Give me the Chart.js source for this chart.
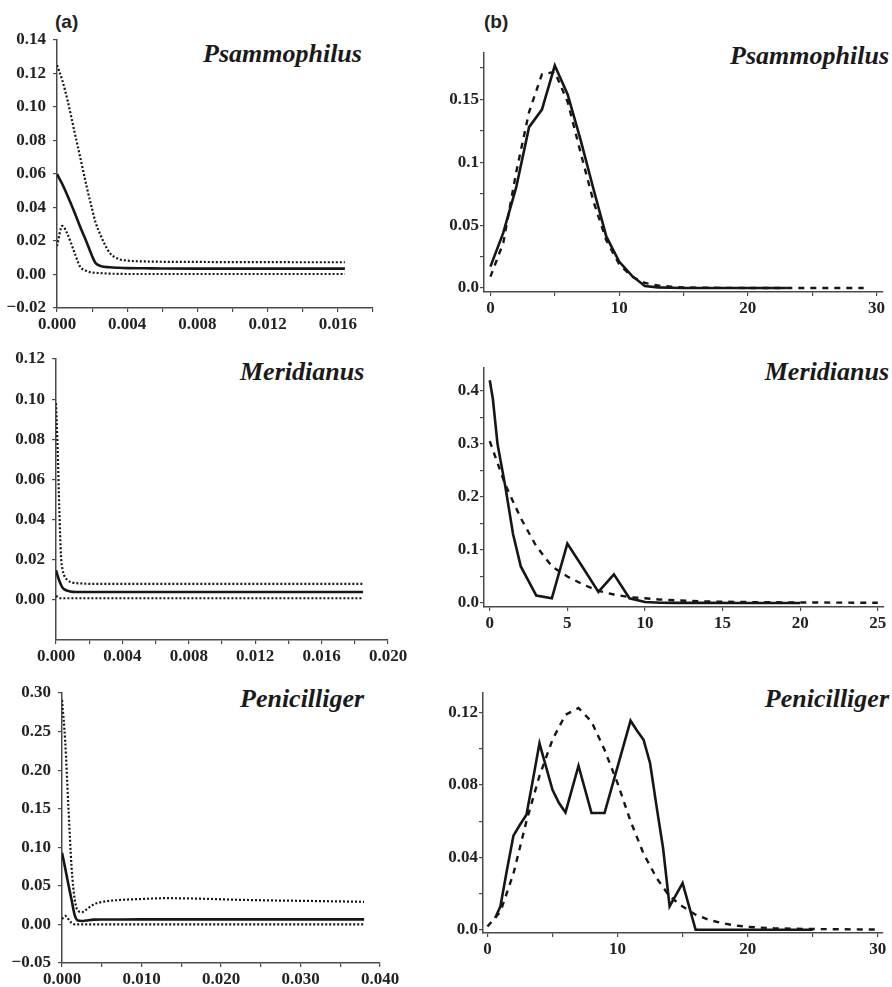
<!DOCTYPE html>
<html>
<head>
<meta charset="utf-8">
<script src="https://cdn.jsdelivr.net/npm/chart.js@4.4.0/dist/chart.umd.min.js"></script>
<style>
  body { margin: 0; background: #fff; width: 892px; height: 987px; position: relative; overflow: hidden; }
  canvas { position: absolute; }
  .tag { position: absolute; font: bold 19px "Liberation Sans", Arial, sans-serif; line-height: 19px; color: #222; }
  .sp { position: absolute; font: italic bold 26px "Liberation Serif", "Times New Roman", serif; line-height: 26px; color: #1a1a1a; white-space: nowrap; }
</style>
</head>
<body>
<div class="tag" style="left:55px;top:12px">(a)</div>
<div class="tag" style="left:484px;top:12px">(b)</div>
<div class="sp" style="left:203px;top:41px">Psammophilus</div>
<div class="sp" style="right:3px;top:43px">Psammophilus</div>
<div class="sp" style="left:240px;top:359px">Meridianus</div>
<div class="sp" style="right:3px;top:359px">Meridianus</div>
<div class="sp" style="left:240px;top:686px">Penicilliger</div>
<div class="sp" style="right:3px;top:686px">Penicilliger</div>

<script>
// ---- column (a): estimates with upper / lower bounds ----
const psaGrid = [0, 0.0003, 0.0006, 0.001, 0.0013, 0.0017, 0.002, 0.0022, 0.0025, 0.003, 0.0035, 0.004, 0.005, 0.006, 0.008, 0.010, 0.012, 0.014, 0.0164];
const psaMid = [0.060, 0.054, 0.047, 0.037, 0.029, 0.019, 0.011, 0.0068, 0.005, 0.0043, 0.004, 0.0038, 0.0037, 0.0036, 0.0035, 0.0035, 0.0035, 0.0035, 0.0035];
const psaUpper = [0.125, 0.116, 0.104, 0.085, 0.071, 0.052, 0.039, 0.031, 0.023, 0.013, 0.0093, 0.0083, 0.0078, 0.0076, 0.0075, 0.0074, 0.0074, 0.0073, 0.0073];
const psaLower = [0.017, 0.029, 0.024, 0.013, 0.005, 0.002, 0.0012, 0.001, 0.0008, 0.0005, 0.0004, 0.0003, 0.0003, 0.0003, 0.0003, 0.0003, 0.0003, 0.0003, 0.0003];

const merGrid = [0, 0.0001, 0.0002, 0.0003, 0.0004, 0.0005, 0.0007, 0.001, 0.0015, 0.002, 0.004, 0.008, 0.012, 0.016, 0.0185];
const merMid = [0.0148, 0.012, 0.0095, 0.0075, 0.006, 0.0052, 0.0045, 0.004, 0.0039, 0.0039, 0.0039, 0.0039, 0.0039, 0.0039, 0.0039];
const merUpper = [0.098, 0.075, 0.045, 0.022, 0.015, 0.012, 0.0098, 0.0086, 0.0082, 0.008, 0.008, 0.008, 0.008, 0.008, 0.008];
const merLower = [0.002, 0.0015, 0.001, 0.0008, 0.0008, 0.0008, 0.0008, 0.0008, 0.0008, 0.0008, 0.0008, 0.0008, 0.0008, 0.0008, 0.0008];

const penGrid = [0, 0.0004, 0.0008, 0.0012, 0.0016, 0.002, 0.0025, 0.003, 0.004, 0.005, 0.007, 0.010, 0.013, 0.017, 0.022, 0.027, 0.030, 0.034, 0.038];
const penMid = [0.093, 0.073, 0.052, 0.032, 0.012, 0.005, 0.0045, 0.005, 0.0062, 0.0063, 0.0064, 0.0065, 0.0065, 0.0065, 0.0065, 0.0065, 0.0065, 0.0065, 0.0065];
const penUpper = [0.291, 0.238, 0.153, 0.075, 0.032, 0.018, 0.016, 0.019, 0.026, 0.029, 0.0315, 0.033, 0.034, 0.0335, 0.032, 0.031, 0.0306, 0.030, 0.0293];
const penLower = [0.007, 0.011, 0.007, 0.002, 0, 0, 0, 0, 0, 0, 0, 0, 0, 0, 0, 0, 0, 0, 0];

// ---- column (b): observed (solid) vs fitted (dashed) ----
const psaObsX = [0, 1, 2, 3, 4, 5, 6, 7, 8, 9, 10, 11, 12, 13, 14, 15, 16, 17, 18, 19, 20, 21, 22, 23];
const psaObs = [0.017, 0.044, 0.080, 0.128, 0.142, 0.177, 0.154, 0.118, 0.079, 0.041, 0.021, 0.0096, 0.0015, 0.0005, 0.0002, 0, 0, 0, 0, 0, 0, 0, 0, 0];
const psaFitX = [0, 1, 2, 3, 4, 5, 6, 7, 8, 9, 10, 11, 12, 13, 14, 15, 16, 17, 18, 19, 20, 21, 22, 23, 24, 25, 26, 27, 28, 29];
const psaFit = [0.009, 0.036, 0.092, 0.140, 0.170, 0.172, 0.148, 0.108, 0.069, 0.038, 0.019, 0.009, 0.004, 0.002, 0.001, 0.0005, 0.0003, 0.0002, 0.0001, 0.0001, 0, 0, 0, 0, 0, 0, 0, 0, 0, 0];

const merObsX = [0, 0.2, 0.5, 1, 1.5, 2, 3, 4, 5, 6, 7, 8, 9, 10, 11, 12, 14, 16, 18, 20];
const merObs = [0.42, 0.385, 0.30, 0.22, 0.13, 0.069, 0.014, 0.009, 0.112, 0.067, 0.021, 0.054, 0.009, 0.002, 0.0005, 0.0003, 0.0002, 0.0001, 0, 0];
const merFitX = [0, 1, 2, 3, 4, 5, 6, 7, 8, 9, 10, 11, 12, 13, 14, 15, 16, 18, 20, 22, 25];
const merFit = [0.305, 0.223, 0.16, 0.107, 0.069, 0.050, 0.035, 0.023, 0.016, 0.011, 0.009, 0.0065, 0.005, 0.004, 0.003, 0.0025, 0.002, 0.0015, 0.001, 0.0008, 0.0005];

const penObsX = [0.6, 1, 1.5, 2, 2.5, 3, 3.5, 4, 5, 5.5, 6, 7, 8, 9, 10, 11, 11.5, 12, 12.5, 13, 13.5, 14, 15, 16, 18, 20, 22, 25];
const penObs = [0.0065, 0.013, 0.033, 0.052, 0.058, 0.0635, 0.083, 0.103, 0.0773, 0.070, 0.0648, 0.0906, 0.0645, 0.0645, 0.090, 0.1155, 0.110, 0.105, 0.092, 0.068, 0.045, 0.0129, 0.0258, 0, 0, 0, 0, 0];
const penFitX = [0, 1, 2, 3, 4, 5, 6, 7, 8, 9, 10, 11, 12, 13, 14, 15, 16, 17, 18, 19, 20, 22, 25, 28, 30];
const penFit = [0.0018, 0.010, 0.031, 0.060, 0.085, 0.105, 0.1188, 0.1225, 0.115, 0.0994, 0.081, 0.060, 0.042, 0.0286, 0.0184, 0.0129, 0.0083, 0.0055, 0.0037, 0.0024, 0.0016, 0.0008, 0.0004, 0.0002, 0.0001];

// ---- tick positions and their labels ('' = unlabelled minor tick) ----
const psaAXTicks = [0, 0.002, 0.004, 0.006, 0.008, 0.010, 0.012, 0.014, 0.016, 0.018];
const psaAXText = ['0.000', '', '0.004', '', '0.008', '', '0.012', '', '0.016', ''];
const psaAYTicks = [-0.02, 0, 0.02, 0.04, 0.06, 0.08, 0.10, 0.12, 0.14];
const psaAYText = ['\u22120.02', '0.00', '0.02', '0.04', '0.06', '0.08', '0.10', '0.12', '0.14'];

const merAXTicks = [0, 0.002, 0.004, 0.006, 0.008, 0.010, 0.012, 0.014, 0.016, 0.018, 0.020];
const merAXText = ['0.000', '', '0.004', '', '0.008', '', '0.012', '', '0.016', '', '0.020'];
const merAYTicks = [0, 0.02, 0.04, 0.06, 0.08, 0.10, 0.12];
const merAYText = ['0.00', '0.02', '0.04', '0.06', '0.08', '0.10', '0.12'];

const penAXTicks = [0, 0.005, 0.010, 0.015, 0.020, 0.025, 0.030, 0.035, 0.040];
const penAXText = ['0.000', '', '0.010', '', '0.020', '', '0.030', '', '0.040'];
const penAYTicks = [-0.05, 0, 0.05, 0.10, 0.15, 0.20, 0.25, 0.30];
const penAYText = ['\u22120.05', '0.00', '0.05', '0.10', '0.15', '0.20', '0.25', '0.30'];

const psaBXTicks = [0, 5, 10, 15, 20, 25, 30];
const psaBXText = ['0', '', '10', '', '20', '', '30'];
const psaBYTicks = [0, 0.025, 0.05, 0.075, 0.1, 0.125, 0.15, 0.175];
const psaBYText = ['0.0', '', '0.05', '', '0.1', '', '0.15', ''];

const merBXTicks = [0, 5, 10, 15, 20, 25];
const merBXText = ['0', '5', '10', '15', '20', '25'];
const merBYTicks = [0, 0.05, 0.1, 0.15, 0.2, 0.25, 0.3, 0.35, 0.4];
const merBYText = ['0.0', '', '0.1', '', '0.2', '', '0.3', '', '0.4'];

const penBXTicks = [0, 5, 10, 15, 20, 25, 30];
const penBXText = ['0', '', '10', '', '20', '', '30'];
const penBYTicks = [0, 0.02, 0.04, 0.06, 0.08, 0.10, 0.12];
const penBYText = ['0.0', '', '0.04', '', '0.08', '', '0.12'];

(function () {

    'use strict';

    const ink = '#161616';
    const axisInk = '#4a4a4a';
    const xAxisHeight = 28;
    const padTop = 12;

    const solid = { width: 2.6, dash: [] };
    const dotted = { width: 2.2, dash: [2, 2] };
    const dashed = { width: 2.4, dash: [6, 6] };

    // tick labels: bold Times-like serif
    Chart.defaults.font.family = 'Liberation Serif';
    Chart.defaults.font.weight = 'bold';
    Chart.defaults.font.size = 17;
    Chart.defaults.color = '#222';

    // area = [left, right, top, bottom] of the plot frame on the page
    const panels = [
        { area: [57, 372.7, 40, 308], x: [0, 0.018], y: [-0.02, 0.14], yWidth: 60, yPad: 7, padRight: 25, smooth: true,
          xTicks: psaAXTicks, xText: psaAXText, yTicks: psaAYTicks, yText: psaAYText,
          series: [[psaGrid, psaUpper, dotted], [psaGrid, psaLower, dotted], [psaGrid, psaMid, solid]] },
        { area: [56, 388, 359, 640], x: [0, 0.020], y: [-0.02, 0.12], yWidth: 60, yPad: 7, padRight: 25, smooth: true,
          xTicks: merAXTicks, xText: merAXText, yTicks: merAYTicks, yText: merAYText,
          series: [[merGrid, merUpper, dotted], [merGrid, merLower, dotted], [merGrid, merMid, solid]] },
        { area: [62, 380, 692.7, 963.3], x: [0, 0.040], y: [-0.05, 0.30], yWidth: 60, yPad: 7, padRight: 25, smooth: true,
          xTicks: penAXTicks, xText: penAXText, yTicks: penAYTicks, yText: penAYText,
          series: [[penGrid, penUpper, dotted], [penGrid, penLower, dotted], [penGrid, penMid, solid]] },
        { area: [483.7, 882.7, 53.3, 291.7], x: [-0.5, 30.5], y: [-0.0032, 0.187], yWidth: 50, yPad: 1, padRight: 9, smooth: false,
          xTicks: psaBXTicks, xText: psaBXText, yTicks: psaBYTicks, yText: psaBYText,
          series: [[psaFitX, psaFit, dashed], [psaObsX, psaObs, solid]] },
        { area: [484.3, 884.3, 368.3, 607.3], x: [-0.37, 25.4], y: [-0.0075, 0.443], yWidth: 50, yPad: 1, padRight: 7, smooth: false,
          xTicks: merBXTicks, xText: merBXText, yTicks: merBYTicks, yText: merBYText,
          series: [[merFitX, merFit, dashed], [merObsX, merObs, solid]] },
        { area: [483.3, 882.7, 693.3, 933.3], x: [-0.34, 30.4], y: [-0.0018, 0.1308], yWidth: 50, yPad: 1, padRight: 9, smooth: false,
          xTicks: penBXTicks, xText: penBXText, yTicks: penBYTicks, yText: penBYText,
          series: [[penFitX, penFit, dashed], [penObsX, penObs, solid]] }
    ];

    window.addEventListener("load", init);

    function init() {
        panels.forEach(makePanel);
    }

    function makePanel(p) {
        let [L, R, T, B] = p.area;
        let left = Math.round(L - p.yWidth);
        let top = Math.round(T - padTop);
        let w = Math.round(R + p.padRight) - left;
        let h = Math.round(B + xAxisHeight) - top;

        let cv = document.createElement('canvas');
        cv.width = w;
        cv.height = h;
        cv.style.left = left + 'px';
        cv.style.top = top + 'px';
        cv.style.width = w + 'px';
        cv.style.height = h + 'px';
        document.body.appendChild(cv);

        let datasets = p.series.map(([xs, ys, style]) => ({
            data: xs.map((x, i) => ({ x: x, y: ys[i] })),
            borderColor: ink,
            borderWidth: style.width,
            borderDash: style.dash,
            borderCapStyle: 'butt',
            pointRadius: 0,
            fill: false,
            tension: 0,
            cubicInterpolationMode: p.smooth ? 'monotone' : 'default'
        }));

        new Chart(cv, {
            type: 'line',
            data: { datasets: datasets },
            options: {
                responsive: false,
                animation: false,
                devicePixelRatio: 1,
                layout: { padding: { top: padTop, right: p.padRight, left: 0, bottom: 0 } },
                plugins: { legend: { display: false }, tooltip: { enabled: false } },
                scales: {
                    x: axis(p.x, p.xTicks, p.xText, true, xAxisHeight, 2),
                    y: axis(p.y, p.yTicks, p.yText, false, p.yWidth, p.yPad)
                }
            }
        });
    }

    function axis(range, ticks, text, isX, size, pad) {
        return {
            type: 'linear',
            min: range[0],
            max: range[1],
            grid: { drawOnChartArea: false, drawTicks: true, tickLength: 4, color: axisInk, lineWidth: 1.2 },
            border: { display: true, color: axisInk, width: 1.5 },
            ticks: {
                autoSkip: false,
                maxRotation: 0,
                padding: pad,
                color: '#222',
                font: { family: 'Liberation Serif', weight: 'bold', size: 17 },
                callback: (v, i) => text[i]
            },
            afterBuildTicks: (s) => { s.ticks = ticks.map(v => ({ value: v })); },
            afterFit: (s) => {
                if (isX) { s.height = size; } else { s.width = size; }
                s.paddingLeft = 0;
                s.paddingRight = 0;
                s.paddingTop = 0;
                s.paddingBottom = 0;
            }
        };
    }

})();
</script>
</body>
</html>
